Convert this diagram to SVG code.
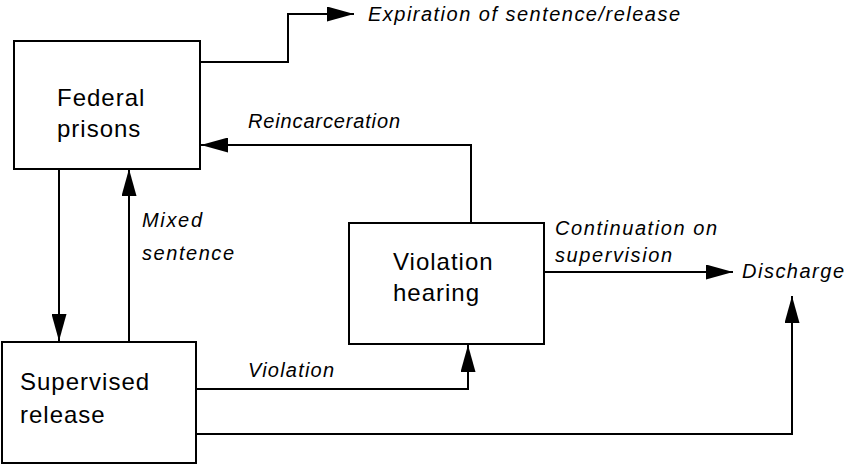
<svg xmlns="http://www.w3.org/2000/svg" width="844" height="464" viewBox="0 0 844 464">
<defs>
<style>
.box{fill:#fff;stroke:#000;stroke-width:2}
.node{font-family:"Liberation Sans",Arial,sans-serif;font-size:24px;letter-spacing:1px;fill:#000}
.lbl{font-family:"Liberation Sans",Arial,sans-serif;font-size:20px;font-style:italic;fill:#000}
.edge{fill:none;stroke:#000;stroke-width:2}
</style>
<marker id="ah" viewBox="0 0 27 15" refX="27" refY="7.5" markerWidth="27" markerHeight="15" markerUnits="userSpaceOnUse" orient="auto">
<path d="M0,0 L27,7.5 L0,15 Z" fill="#000"/>
</marker>
</defs>
<rect width="844" height="464" fill="#fff"/>
<g id="connectors">
<path class="edge" d="M200,62 H288 V14 H354" marker-end="url(#ah)"/>
<path class="edge" d="M471,222 V145 H201" marker-end="url(#ah)"/>
<path class="edge" d="M59,168 V341" marker-end="url(#ah)"/>
<path class="edge" d="M129,342 V169" marker-end="url(#ah)"/>
<path class="edge" d="M196,389 H468 V345" marker-end="url(#ah)"/>
<path class="edge" d="M196,434 H792 V296" marker-end="url(#ah)"/>
<path class="edge" d="M544,272 H733" marker-end="url(#ah)"/>
<text class="lbl" x="368" y="21" textLength="312" lengthAdjust="spacing">Expiration of sentence/release</text>
<text class="lbl" x="248" y="128" textLength="152" lengthAdjust="spacing">Reincarceration</text>
<text class="lbl" x="142" y="227" textLength="60" lengthAdjust="spacing">Mixed</text>
<text class="lbl" x="142" y="260" textLength="92" lengthAdjust="spacing">sentence</text>
<text class="lbl" x="248" y="377" textLength="86" lengthAdjust="spacing">Violation</text>
<text class="lbl" x="555" y="235" textLength="162" lengthAdjust="spacing">Continuation on</text>
<text class="lbl" x="555" y="262" textLength="117" lengthAdjust="spacing">supervision</text>
<text class="lbl" x="742" y="278" textLength="102" lengthAdjust="spacing">Discharge</text>
</g>
<g id="federal-prisons">
<rect class="box" x="14" y="41" width="186" height="128"/>
<text class="node" x="57" y="106">Federal</text>
<text class="node" x="57" y="137">prisons</text>
</g>
<g id="violation-hearing">
<rect class="box" x="349" y="223" width="195" height="121"/>
<text class="node" x="393" y="270">Violation</text>
<text class="node" x="393" y="301">hearing</text>
</g>
<g id="supervised-release">
<rect class="box" x="2" y="342" width="194" height="121"/>
<text class="node" x="20" y="390">Supervised</text>
<text class="node" x="20" y="423">release</text>
</g>
</svg>
